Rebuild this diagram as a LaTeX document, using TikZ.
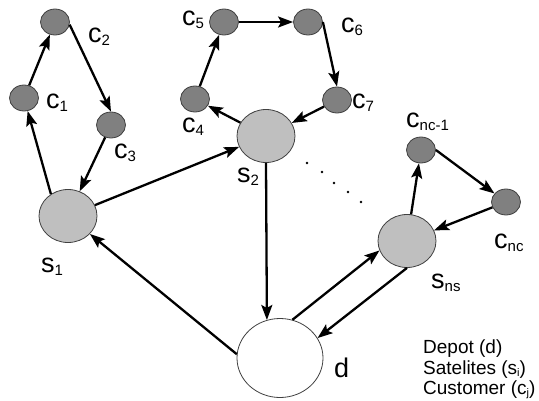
\documentclass[tikz,border=0pt]{standalone}
\usepackage{fontspec}
\setmainfont{Liberation Sans}
\usetikzlibrary{arrows.meta,shapes.geometric}
\newcommand{\nsub}[2]{#1\raisebox{-3pt}{\fontsize{15}{15}\selectfont #2}}
\newcommand{\lsub}[2]{#1\raisebox{-2pt}{\fontsize{11}{11}\selectfont #2}}

\begin{document}
\begin{tikzpicture}[
	x=1pt, y=-1pt,
	cust/.style={ellipse, draw=black!75, line width=0.8pt, fill=gray, minimum width=29pt, minimum height=26pt, inner sep=0pt},
	sat/.style={ellipse, draw=black!75, line width=0.8pt, fill=gray!50, minimum width=58pt, minimum height=53pt, inner sep=0pt},
	depot/.style={ellipse, draw=black!75, line width=0.8pt, fill=white, minimum width=86pt, minimum height=79pt, inner sep=0pt},
	lbl/.style={anchor=base west, inner sep=0pt, font=\fontsize{27}{30}\selectfont},
	arrow/.style={-{Stealth[length=15pt, width=11pt, inset=3pt]}, line width=2.3pt}
]
	\useasboundingbox (0,0) rectangle (539,400);

	% Depot and satellites
	\node[depot] (d) at (280,358) {};
	\node[sat] (s1) at (68,216) {};
	\node[sat] (s2) at (266,136) {};
	\node[sat] (sns) at (407,241) {};

	% Customers
	\node[cust] (c1) at (24,98) {};
	\node[cust] (c2) at (55,22) {};
	\node[cust] (c3) at (111,125) {};
	\node[cust] (c4) at (195,99) {};
	\node[cust] (c5) at (224,22) {};
	\node[cust] (c6) at (308,22) {};
	\node[cust] (c7) at (337,100) {};
	\node[cust] (cnc1) at (421,150) {};
	\node[cust] (cnc) at (506,202) {};

	% Labels
	\node[lbl] (ld) at (334,377) {d};
	\node[lbl] (ls1) at (41,272) {\nsub{s}{1}};
	\node[lbl] (ls2) at (237,182) {\nsub{s}{2}};
	\node[lbl] (lsns) at (431,288) {\nsub{s}{ns}};
	\node[lbl] (lc1) at (46,108) {\nsub{c}{1}};
	\node[lbl] (lc2) at (88,42) {\nsub{c}{2}};
	\node[lbl] (lc3) at (114,158) {\nsub{c}{3}};
	\node[lbl] (lc4) at (182,132) {\nsub{c}{4}};
	\node[lbl] (lc5) at (182,25) {\nsub{c}{5}};
	\node[lbl] (lc6) at (341,32) {\nsub{c}{6}};
	\node[lbl] (lc7) at (352,108) {\nsub{c}{7}};
	\node[lbl] (lcnc1) at (406,127) {\nsub{c}{nc-1}};
	\node[lbl] (lcnc) at (494,248) {\nsub{c}{nc}};

	% Route of satellite 1
	\draw[arrow] (s1.128) -- (c1);
	\draw[arrow] (c1) -- (c2);
	\draw[arrow] (c2.-10) -- (c3.north);
	\draw[arrow] (c3) -- (s1);

	% Route of satellite 2
	\draw[arrow] (s2) -- (c4);
	\draw[arrow] (c4) -- (c5);
	\draw[arrow] (c5) -- (c6);
	\draw[arrow] (c6.east) -- (c7.north);
	\draw[arrow] (c7) -- (s2);

	% Route of satellite ns
	\draw[arrow] (sns) -- (cnc1);
	\draw[arrow] (cnc1.east) -- (cnc);
	\draw[arrow] (cnc) -- (sns);

	% Depot links
	\draw[arrow] (s1) -- (s2);
	\draw[arrow] (s2.south) -- (d.109);
	\draw[arrow] (d.175) -- (s1);
	\draw[arrow] (d.72) -- (sns.199);
	\draw[arrow] (sns.south) -- (d.28);

	% Further satellites
	\foreach \p in {(307,163),(322,172),(334,183),(348,192),(361,202)}
		\fill \p circle (1.3pt);

	% Legend
	\node[anchor=north west, align=left, inner sep=0pt, font=\fontsize{19}{20.5}\selectfont] (legend) at (423,340)
		{Depot (d)\\Satelites (\lsub{s}{i})\\Customer (\lsub{c}{j})};
\end{tikzpicture}
\end{document}
